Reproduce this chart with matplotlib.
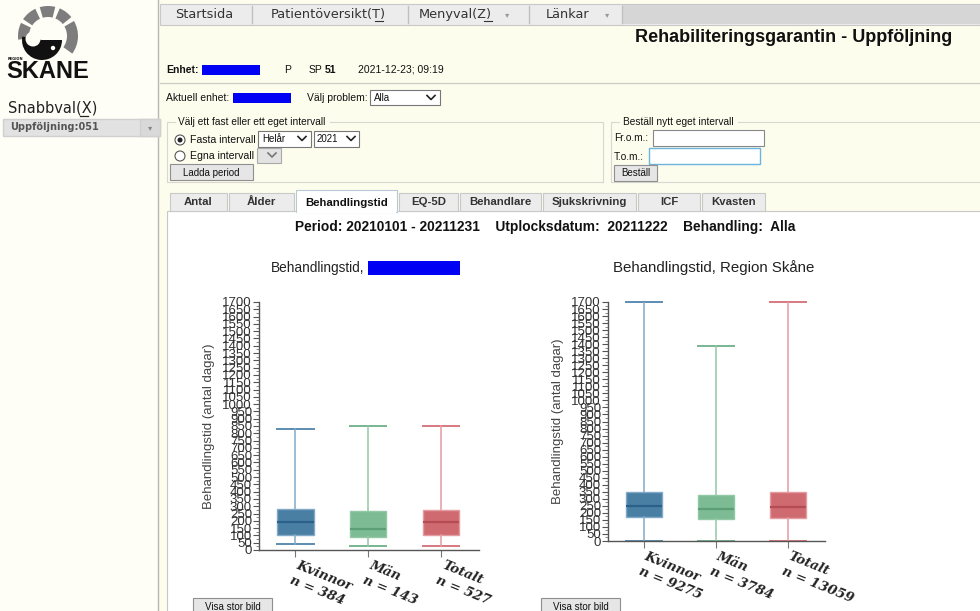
import numpy as np
import matplotlib
matplotlib.use("Agg")
from matplotlib import pyplot as plt
from matplotlib.patches import Rectangle, Circle, Wedge
from matplotlib.ticker import MultipleLocator

## data

groups      = ['Kvinnor', 'Män', 'Totalt']
left_n      = [384, 143, 527]
right_n     = [9275, 3784, 13059]

left_whislo = [41, 30, 30]
left_q1     = [103, 91, 100]
left_med    = [194, 142, 190]
left_q3     = [283, 265, 276]
left_whishi = [831, 852, 852]

right_whislo = [0, 0, 0]
right_q1     = [172, 154, 165]
right_med    = [246, 225, 241]
right_q3     = [350, 324, 347]
right_whishi = [1700, 1386, 1700]

yticks = list(range(0, 1701, 50))

menu_items = ['Startsida', 'Patientöversikt(T)', 'Menyval(Z)', 'Länkar']
tabs       = ['Antal', 'Ålder', 'Behandlingstid', 'EQ-5D', 'Behandlare', 'Sjukskrivning', 'ICF', 'Kvasten']

face_col   = ['#4a7fa4', '#7dbb94', '#cf6a71']
median_col = ['#2b608a', '#5c9f76', '#b54c55']
whisk_col  = ['#82a9c6', '#93c7a6', '#e49ba1']
cap_col    = ['#5b8db2', '#78b690', '#d77980']

## figure + a pixel-coordinate background axes for the page

W, H = 980, 611
fig = plt.figure(figsize=(W/100, H/100), dpi=100)
bg = fig.add_axes([0, 0, 1, 1])
bg.set_xlim(0, W)
bg.set_ylim(H, 0)
bg.axis('off')

SANS = 'Liberation Sans'
VERD = 'DejaVu Sans'

def rect(x0, y0, x1, y1, fc='none', ec='none', lw=1, z=1):
    bg.add_patch(Rectangle((x0, y0), x1-x0, y1-y0, facecolor=fc, edgecolor=ec, lw=lw, zorder=z))

def txt(x, y, s, size=7.5, ha='left', va='center', weight='normal', color='#111', family=SANS, z=5):
    bg.text(x, y, s, fontsize=size, ha=ha, va=va, fontweight=weight, color=color, family=family, zorder=z)

def chevron(x, y, s=4, color='#222'):
    bg.plot([x-s, x, x+s], [y-s/2, y+s/2, y-s/2], color=color, lw=1.2, zorder=6)

def button(x0, y0, x1, y1, label, size=7.5):
    rect(x0, y0, x1, y1, fc='#e6e6e6', ec='#8f8f8f', lw=0.8, z=3)
    txt((x0+x1)/2, (y0+y1)/2+0.5, label, size=size, ha='center')

# page backgrounds
rect(0, 0, W, H, fc='#fefef6')
rect(158, 0, W, H, fc='#fdfdee')
bg.plot([157.5, 157.5], [0, H], color='#b8b8b0', lw=1, zorder=2)

# logo (rough)
for a0, a1 in [(-187, -154), (-146, -115), (-106, -76), (-67, -39), (-30, 36)]:
    bg.add_patch(Wedge((48, 36), 30, a0, a1, width=11, facecolor='#7d7d7d', zorder=3))
bg.add_patch(Wedge((42, 40), 20, 0, 190, facecolor='#111', zorder=3))
bg.add_patch(Circle((33, 39), 7.5, facecolor='#fefef6', zorder=4))
bg.add_patch(Circle((53, 48), 2.2, facecolor='#fefef6', zorder=4))
txt(8, 58.5, 'REGION', size=2.6, weight='bold', family=VERD)
txt(6, 71.5, 'SKANE', size=17, weight='bold', family=SANS, color='#111')

# sidebar
txt(8, 108, 'Snabbval(X)', size=10.5, family=VERD, color='#222')
bg.plot([80, 88], [116, 116], color='#222', lw=0.9, zorder=6)
rect(3, 119, 160, 136, fc='#e2e2e2', ec='#d0d0d0', z=2)
rect(140, 119, 160, 136, fc='#d9d9d9', ec='#d0d0d0', z=2)
txt(10, 127.5, 'Uppföljning:051', size=7, weight='bold', family=VERD, color='#555')
bg.text(150, 127.5, '▾', fontsize=6, ha='center', va='center', color='#888', zorder=6)

# menu bar
rect(160, 4, W, 25, fc='#ececec', ec='#c8c8c8', lw=0.8, z=2)
rect(622, 5, W, 24, fc='#d6d6d6', z=2)
seps = [252, 408, 529, 622]
for sx in seps:
    bg.plot([sx, sx], [6, 23], color='#c0c0c0', lw=1, zorder=3)
txt(204, 14.5, menu_items[0], size=9.3, ha='center', family=VERD, color='#333')
txt(328, 14.5, menu_items[1], size=9.3, ha='center', family=VERD, color='#333')
txt(455, 14.5, menu_items[2], size=9.3, ha='center', family=VERD, color='#333')
txt(568, 14.5, menu_items[3], size=9.3, ha='center', family=VERD, color='#333')
bg.text(507, 15, '▾', fontsize=6, ha='center', va='center', color='#999', zorder=6)
bg.text(607, 15, '▾', fontsize=6, ha='center', va='center', color='#999', zorder=6)
bg.plot([375, 383], [21, 21], color='#333', lw=0.8, zorder=6)
bg.plot([484, 492], [21, 21], color='#333', lw=0.8, zorder=6)

# header
txt(952, 38, 'Rehabiliteringsgarantin - Uppföljning', size=13, ha='right', weight='bold', color='#111')
txt(166, 70, 'Enhet:', size=7.5, weight='bold')
rect(202, 65, 260, 75, fc='#0000f5', z=4)
txt(284, 70, 'P', size=7.5)
txt(309, 70, 'SP', size=7.5)
txt(325, 70, '51', size=7.5, weight='bold')
txt(358, 70, '2021-12-23; 09:19', size=7.5)
bg.plot([160, W], [83, 83], color='#cfcfc8', lw=1, zorder=2)
txt(166, 98, 'Aktuell enhet:', size=7.5)
rect(233, 93, 291, 103, fc='#0000f5', z=4)
txt(307, 98, 'Välj problem:', size=7.5)
rect(370, 90, 440, 105, fc='white', ec='#777', lw=0.8, z=3)
txt(374, 98, 'Alla', size=7)
chevron(431, 97.5)

# interval fieldset
rect(167, 122, 603, 182, ec='#d8d8d0', lw=0.8, z=2)
rect(176, 117, 330, 127, fc='#fdfdee', z=3)
txt(178, 122, 'Välj ett fast eller ett eget intervall', size=7.3)
bg.add_patch(Circle((180, 140), 5, facecolor='white', edgecolor='#555', lw=0.8, zorder=4))
bg.add_patch(Circle((180, 140), 2.5, facecolor='#222', zorder=5))
txt(190, 140, 'Fasta intervall', size=7.6)
rect(258, 131, 311, 147, fc='white', ec='#777', lw=0.8, z=3)
txt(262, 139, 'Helår', size=7)
chevron(302, 138.5)
rect(314, 131, 359, 147, fc='white', ec='#777', lw=0.8, z=3)
txt(317, 139, '2021', size=7)
chevron(351, 138.5)
bg.add_patch(Circle((180, 156), 5, facecolor='white', edgecolor='#555', lw=0.8, zorder=4))
txt(190, 156, 'Egna intervall', size=7.6)
rect(257, 148, 281, 163, fc='#e3e3e3', ec='#aaa', lw=0.8, z=3)
chevron(272, 155, color='#777')
button(170, 164, 253, 180, 'Ladda period', size=7)

# order fieldset
rect(611, 122, 990, 182, ec='#d8d8d0', lw=0.8, z=2)
rect(620, 117, 738, 127, fc='#fdfdee', z=3)
txt(623, 122, 'Beställ nytt eget intervall', size=7.3)
txt(614, 138, 'Fr.o.m.:', size=7.3)
rect(653, 130, 764, 146, fc='white', ec='#888', lw=0.8, z=3)
txt(614, 157, 'T.o.m.:', size=7.3)
rect(649, 148, 760, 164, fc='white', ec='#6cb4e0', lw=1, z=3)
button(614, 165, 657, 181, 'Beställ', size=7)

# tabs + content panel
rect(167, 211, W+2, H+2, fc='white', ec='#c8c8c8', lw=0.8, z=2)
tab_x = [(170, 227), (229, 294), (296, 397), (399, 458), (460, 541), (543, 636), (638, 700), (702, 765)]
for i, (x0, x1) in enumerate(tab_x):
    if tabs[i] == 'Behandlingstid':
        rect(x0, 190, x1, 212, fc='white', ec='#b8c8d8', lw=0.8, z=3)
        rect(x0+0.6, 210, x1-0.6, 213, fc='white', z=4)
        txt((x0+x1)/2, 202.5, tabs[i], size=8.2, ha='center', weight='bold')
    else:
        rect(x0, 193, x1, 211, fc='#ececec', ec='#c8c8c8', lw=0.8, z=3)
        txt((x0+x1)/2, 202, tabs[i], size=8.2, ha='center', weight='bold', color='#333')

txt(545, 227, 'Period: 20210101 - 20211231    Utplocksdatum:  20211222    Behandling:  Alla',
    size=9.9, ha='center', weight='bold')

# chart titles
txt(271, 268, 'Behandlingstid,', size=9.8, color='#222')
rect(368, 261, 460, 275, fc='#0000f5', z=4)
txt(714, 268, 'Behandlingstid, Region Skåne', size=10.8, ha='center', color='#222')

button(193, 598, 272, 614, 'Visa stor bild', size=7)
button(541, 598, 620, 614, 'Visa stor bild', size=7)

## the two box plots

def boxchart(rect_px, whislo, q1, med, q3, whishi, ns):
    x0, y0, x1, y1 = rect_px
    ax = fig.add_axes([x0/W, (H-y1)/H, (x1-x0)/W, (y1-y0)/H])
    ax.patch.set_alpha(0)
    stats = []
    for i in range(len(groups)):
        stats.append(dict(whislo=whislo[i], q1=q1[i], med=med[i], q3=q3[i], whishi=whishi[i], fliers=[]))
    art = ax.bxp(stats, positions=[1, 2, 3], widths=0.5, capwidths=0.5, patch_artist=True,
                 showfliers=False, manage_ticks=False)
    for i in range(len(groups)):
        art['boxes'][i].set(facecolor=face_col[i], edgecolor=whisk_col[i], lw=1)
        art['medians'][i].set(color=median_col[i], lw=1.6)
        for w in art['whiskers'][2*i:2*i+2]:
            w.set(color=whisk_col[i], lw=1.1)
        for c in art['caps'][2*i:2*i+2]:
            c.set(color=cap_col[i], lw=1.4, clip_on=False, zorder=1.5)
    ax.set_xlim(0.5, 3.52)
    ax.set_ylim(0, 1700)
    ax.set_yticks(yticks)
    ax.set_yticklabels([str(v) for v in yticks], fontsize=9.5, family=SANS, color='#333')
    ax.yaxis.set_minor_locator(MultipleLocator(25))
    ax.tick_params(axis='y', which='major', length=4, width=0.8, color='#555', pad=1)
    ax.tick_params(axis='y', which='minor', length=2.5, width=0.6, color='#777')
    ax.set_xticks([1, 2, 3])
    ax.set_xticklabels([])
    ax.tick_params(axis='x', length=5, width=0.8, color='#777')
    for i in range(len(groups)):
        ax.text(i+1.05, -60, groups[i] + '\nn = ' + str(ns[i]), rotation=-22, rotation_mode='anchor',
                ha='left', va='top', fontsize=9.5, family='DejaVu Serif', style='italic',
                fontweight='bold', color='#222', linespacing=1.35)
    for s in ['top', 'right']:
        ax.spines[s].set_visible(False)
    for s in ['left', 'bottom']:
        ax.spines[s].set_color('#555')
        ax.spines[s].set_linewidth(1)
    ax.set_ylabel('Behandlingstid (antal dagar)', fontsize=9.5, family=SANS, color='#444', labelpad=5)
    return ax

ax1 = boxchart((259, 302, 479, 550), left_whislo, left_q1, left_med, left_q3, left_whishi, left_n)
ax2 = boxchart((608, 302, 825, 541), right_whislo, right_q1, right_med, right_q3, right_whishi, right_n)

fig.savefig('out.png', dpi=100)
